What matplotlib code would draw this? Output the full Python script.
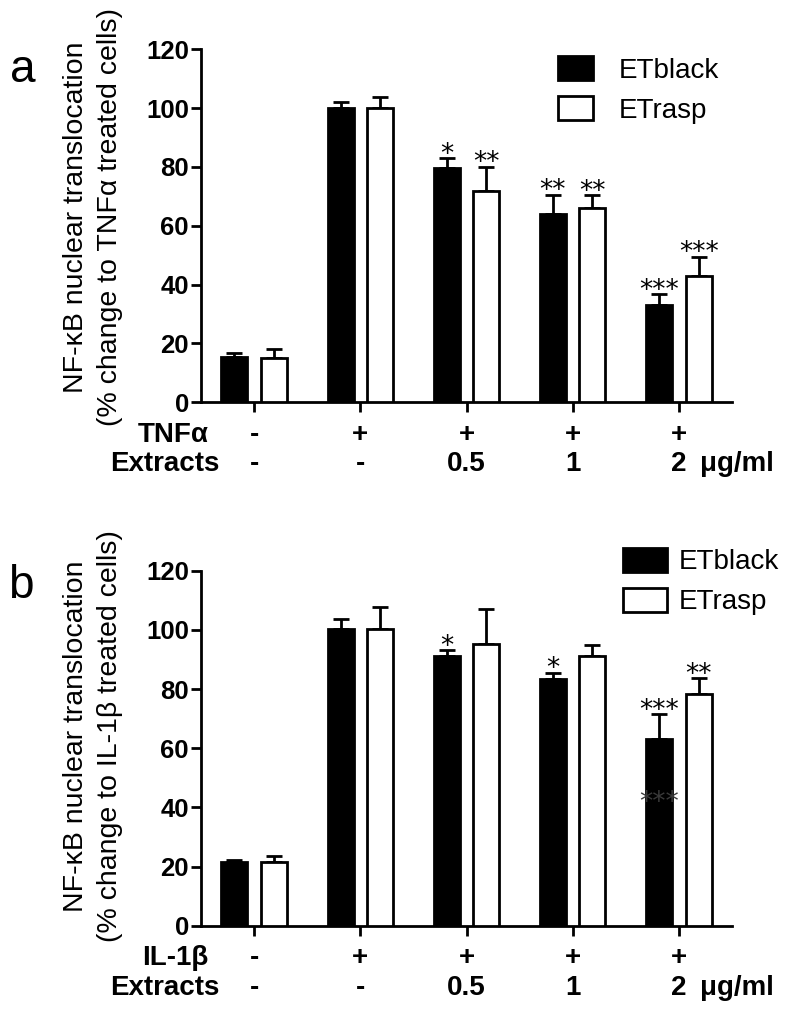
import matplotlib
matplotlib.use("Agg")
import matplotlib.pyplot as plt
import numpy as np

plt.rcParams['font.family'] = ['Liberation Sans', 'DejaVu Sans']

# ---------------- data ----------------
series_names = ['ETblack', 'ETrasp']
stim_a = ['-', '+', '+', '+', '+']
stim_b = ['-', '+', '+', '+', '+']
extract_labels = ['-', '-', '0.5', '1', '2']

a_black = [15.3, 100.2, 79.5, 64.1, 33.1]
a_black_err = [1.4, 1.9, 3.4, 6.5, 3.7]
a_white = [15.1, 100.2, 71.8, 66.2, 43.1]
a_white_err = [2.9, 3.5, 8.2, 4.2, 6.3]
a_black_sig = ['', '', '*', '**', '***']
a_white_sig = ['', '', '**', '**', '***']

b_black = [21.4, 100.2, 91.2, 83.3, 63.1]
b_black_err = [0.9, 3.6, 1.9, 2.2, 8.3]
b_white = [21.4, 100.2, 95.1, 91.2, 78.2]
b_white_err = [2.3, 7.6, 11.8, 3.7, 5.4]
b_black_sig = ['', '', '*', '*', '***']
b_white_sig = ['', '', '', '', '**']

yticks = [0, 20, 40, 60, 80, 100, 120]

# ---------------- figure ----------------
fig = plt.figure(figsize=(7.97, 10.09), dpi=100)
axL, axW = 201 / 797, 531 / 797
ax_a = fig.add_axes([axL, 1 - 402.3 / 1009, axW, 353 / 1009])
ax_b = fig.add_axes([axL, 1 - 925.7 / 1009, axW, 355 / 1009])

LW = 2.0
BAR_W = 0.245
OFF = 0.186
STAR_FONT = dict(family='DejaVu Sans', fontsize=19)


def panel(ax, black, black_err, white, white_err, bsig, wsig, stim, stim_name,
          ylabel, leg_anchor, leg_hlen, leg_tpad, label_y):
    x = np.arange(len(black))
    bb = ax.bar(x - OFF, black, BAR_W, color='black', edgecolor='black',
                linewidth=LW, zorder=3, label=series_names[0])
    bw = ax.bar(x + OFF, white, BAR_W, color='white', edgecolor='black',
                linewidth=LW, zorder=3, label=series_names[1])
    zeros = np.zeros(len(black))
    ax.errorbar(x - OFF, black, yerr=[zeros, black_err], fmt='none',
                ecolor='black', elinewidth=LW, capsize=6, capthick=LW, zorder=2)
    ax.errorbar(x + OFF, white, yerr=[zeros, white_err], fmt='none',
                ecolor='black', elinewidth=LW, capsize=6, capthick=LW, zorder=2)
    for xi, v, e, s in zip(x - OFF, black, black_err, bsig):
        if s:
            ax.annotate(s, xy=(xi, v + e), xytext=(0, -2.5), textcoords='offset points',
                        ha='center', va='baseline', **STAR_FONT)
    for xi, v, e, s in zip(x + OFF, white, white_err, wsig):
        if s:
            ax.annotate(s, xy=(xi, v + e), xytext=(0, -2.5), textcoords='offset points',
                        ha='center', va='baseline', **STAR_FONT)

    ax.set_xlim(-0.5, 4.5)
    ax.set_ylim(0, 120)
    ax.set_yticks(yticks)
    ax.set_xticks(x)
    ax.set_xticklabels([''] * len(x))
    for s in ['top', 'right']:
        ax.spines[s].set_visible(False)
    for s in ['left', 'bottom']:
        ax.spines[s].set_linewidth(LW)
    ax.tick_params(axis='both', direction='out', length=7.2, width=LW)
    ax.tick_params(axis='y', labelsize=18.5, pad=1.5)
    for t in ax.get_yticklabels():
        t.set_fontweight('bold')

    ax.set_ylabel(ylabel, fontsize=20.5, linespacing=1.4)
    ax.yaxis.set_label_coords(-0.147, label_y)

    trans = ax.get_xaxis_transform()
    ax.text(-0.43, -0.092, stim_name, transform=trans, ha='right', va='center',
            fontsize=20, fontweight='bold')
    ax.text(-0.33, -0.176, 'Extracts', transform=trans, ha='right', va='center',
            fontsize=20, fontweight='bold')
    for xi, s in zip(x, stim):
        ax.text(xi, -0.092, s, transform=trans, ha='center', va='center',
                fontsize=20, fontweight='bold')
    for xi, s in zip(x, extract_labels):
        ax.text(xi, -0.176, s, transform=trans, ha='center', va='center',
                fontsize=20, fontweight='bold')
    ax.text(4.2, -0.176, 'μg/ml', transform=trans, ha='left', va='center',
            fontsize=20, fontweight='bold')

    ax.legend(handles=[bb, bw], loc='upper left', bbox_to_anchor=leg_anchor,
              frameon=False, fontsize=20, borderpad=0, borderaxespad=0,
              handlelength=leg_hlen, handleheight=0.95, handletextpad=leg_tpad,
              labelspacing=0.45)
    return x


panel(ax_a, a_black, a_black_err, a_white, a_white_err, a_black_sig, a_white_sig,
      stim_a, 'TNFα',
      'NF-κB nuclear translocation\n(% change to TNFα treated cells)',
      (0.672, 0.98), 1.26, 0.95, 0.525)
xb = panel(ax_b, b_black, b_black_err, b_white, b_white_err, b_black_sig, b_white_sig,
           stim_b, 'IL-1β',
           'NF-κB nuclear translocation\n(% change to IL-1β treated cells)',
           (0.794, 1.065), 1.58, 0.45, 0.535)

# faint duplicate significance mark visible inside the last black bar of panel b
ax_b.text(xb[4] - OFF, 41.4, '***', ha='center', va='center',
          color='#3a3a3a', zorder=4, **STAR_FONT)

fig.text(10 / 797, 1 - 82 / 1009, 'a', fontsize=33, va='baseline', ha='left')
fig.text(8 / 797, 1 - 598 / 1009, 'b', fontsize=33, va='baseline', ha='left')

fig.savefig('out.png', dpi=100)
